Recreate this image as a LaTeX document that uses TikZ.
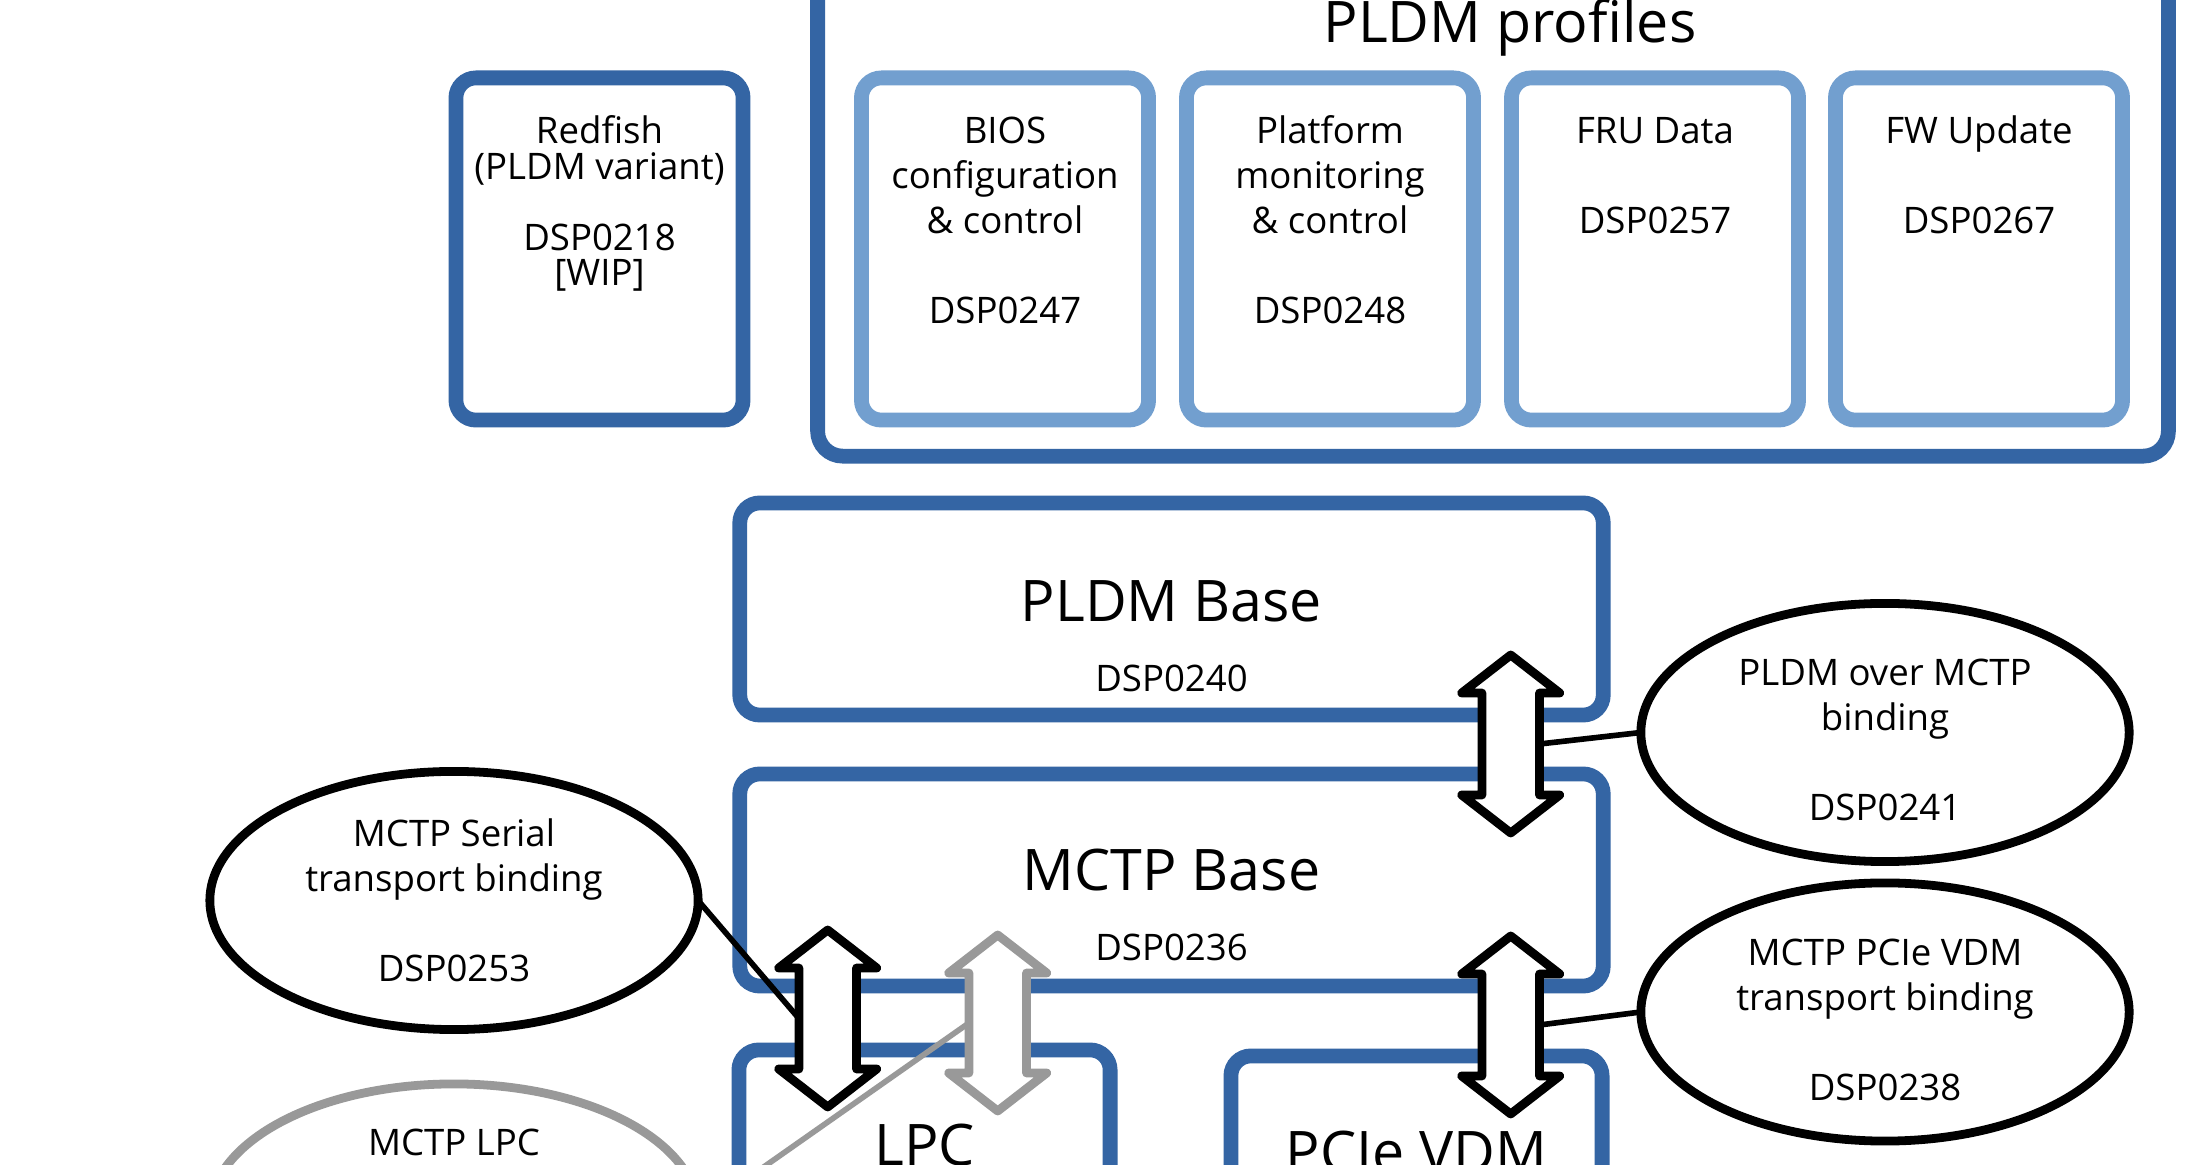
\documentclass[tikz,border=0pt]{standalone}
\usepackage{fontspec}
\setmainfont{Open Sans}
\usepackage{xcolor}
\usepackage{tikz}
\usetikzlibrary{positioning, shapes.geometric}
\definecolor{azul}{HTML}{3465A4}
\definecolor{celeste}{HTML}{729FCF}
\definecolor{gris}{HTML}{999999}

% double arrow: name, colour, x, top tip, bottom tip
\newcommand{\dflecha}[5]{%
  \draw[dbl, draw=#2] (#3,#4) -- ++(49,38) -- ++(-20.2,0) -- (#3+28.8,#5-38)
    -- ++(20.2,0) -- (#3,#5) -- ++(-49,-38) -- ++(20.2,0)
    -- (#3-28.8,#4+38) -- ++(-20.2,0) -- cycle;
  \coordinate (#1-w) at (#3-28.8,{(#4+#5)/2});
  \coordinate (#1-e) at (#3+28.8,{(#4+#5)/2});
}

\begin{document}
\begin{tikzpicture}[
    x=0.01cm, y=-0.01cm,
    perfil/.style={
        rectangle,
        rounded corners=2mm,
        draw=celeste,
        line width=4.2pt,
        fill=white,
        minimum width=2.87cm,
        minimum height=3.42cm,
        outer sep=0pt,
    },
    capa/.style={
        rectangle,
        rounded corners=2mm,
        draw=azul,
        line width=4.2pt,
        fill=white,
        minimum height=2.12cm,
        outer sep=0pt,
    },
    enlace/.style={
        ellipse,
        draw=black,
        line width=2.5pt,
        fill=white,
        minimum width=4.88cm,
        minimum height=2.58cm,
        inner sep=0pt,
        outer sep=0pt,
    },
    txt/.style={inner sep=0pt, align=center, font=\fontsize{10.4}{12.8}\selectfont},
    grande/.style={inner sep=0pt, font=\fontsize{16.3}{19}\selectfont},
    linea/.style={line width=1.6pt},
    dbl/.style={line width=2.5pt, line join=round, fill=white},
]

\fill[white] (0,0) rectangle (2209,1165);
\useasboundingbox (0,0) rectangle (2209,1165);

% PLDM profiles
\node[capa, fill=none, rounded corners=2.5mm, minimum width=13.5cm, minimum height=5.16cm] (perfiles) at (1493,198) {};
\node[grande, anchor=base] (perfiles-t) at (1510,43) {PLDM profiles};

\node[perfil, draw=azul] (redfish) at (599.5,249) {};
\node[perfil] (bios)     at (1005,249) {};
\node[perfil] (platform) at (1330,249) {};
\node[perfil] (fru)      at (1655,249) {};
\node[perfil] (fw)       at (1979,249) {};

\node[txt, font=\fontsize{10.4}{10.1}\selectfont, below=3.7mm of redfish.north] (redfish-t) {Redfish\\(PLDM variant)\\[3.55mm]DSP0218\\ {[WIP]}};
\node[txt, below=3.8mm of bios.north]     (bios-t)     {BIOS\\configuration\\\& control\\[4.5mm]DSP0247};
\node[txt, below=3.7mm of platform.north] (platform-t) {Platform\\monitoring\\\& control\\[4.5mm]DSP0248};
\node[txt, below=3.9mm of fru.north]      (fru-t)      {FRU Data\\[4.5mm]DSP0257};
\node[txt, below=3.7mm of fw.north]       (fw-t)       {FW Update\\[4.5mm]DSP0267};

% base layers
\node[capa, minimum width=8.63cm] (pldmbase) at (1171.5,609) {};
\node[grande, below=7.7mm of pldmbase.north] (pldmbase-t) {PLDM Base};
\node[txt, below=4.1mm of pldmbase-t] (pldmbase-n) {DSP0240};

\node[capa, minimum width=8.63cm] (mctpbase) at (1171.5,880) {};
\node[grande, below=7.4mm of mctpbase.north] (mctpbase-t) {MCTP Base};
\node[txt, below=4.2mm of mctpbase-t] (mctpbase-n) {DSP0236};

\node[capa, minimum width=3.71cm, minimum height=3cm] (lpc) at (924.5,1200) {};
\node[grande, below=7.3mm of lpc.north] (lpc-t) {LPC};
\node[capa, minimum width=3.71cm, minimum height=3cm] (pcie) at (1416.5,1206) {};
\node[grande, below=7.4mm of pcie.north] (pcie-t) {PCIe VDM};

% bindings
\node[enlace] (pldmbind) at (1885,732.5) {};
\node[enlace] (pcibind)  at (1885,1012)  {};
\node[enlace] (serbind)  at (454,900.5)  {};
\node[enlace, draw=gris] (lpcbind) at (454,1213) {};

\node[txt] (pldmbind-t) at ([yshift=-0.7mm]pldmbind.center) {PLDM over MCTP\\binding\\[4.5mm]DSP0241};
\node[txt] (pcibind-t)  at ([yshift=-0.8mm]pcibind.center)  {MCTP PCIe VDM\\transport binding\\[4.5mm]DSP0238};
\node[txt] (serbind-t)  at (serbind.center) {MCTP Serial\\transport binding\\[4.5mm]DSP0253};
\node[txt, below=4.4mm of lpcbind.north] (lpcbind-t) {MCTP LPC};

% arrows
\dflecha{a1}{black}{1510.7}{655}{833}
\dflecha{a2}{black}{1510.7}{936}{1114}
\dflecha{a3}{black}{827.7}{930}{1107}
\dflecha{a4}{gris}{997.7}{935}{1111}

\draw[linea] (pldmbind.west) -- (a1-e);
\draw[linea] (pcibind.west)  -- (a2-e);
\draw[linea] (serbind.east)  -- (a3-w);
\draw[linea, gris] (lpcbind.east) -- (a4-w);

\end{tikzpicture}
\end{document}
